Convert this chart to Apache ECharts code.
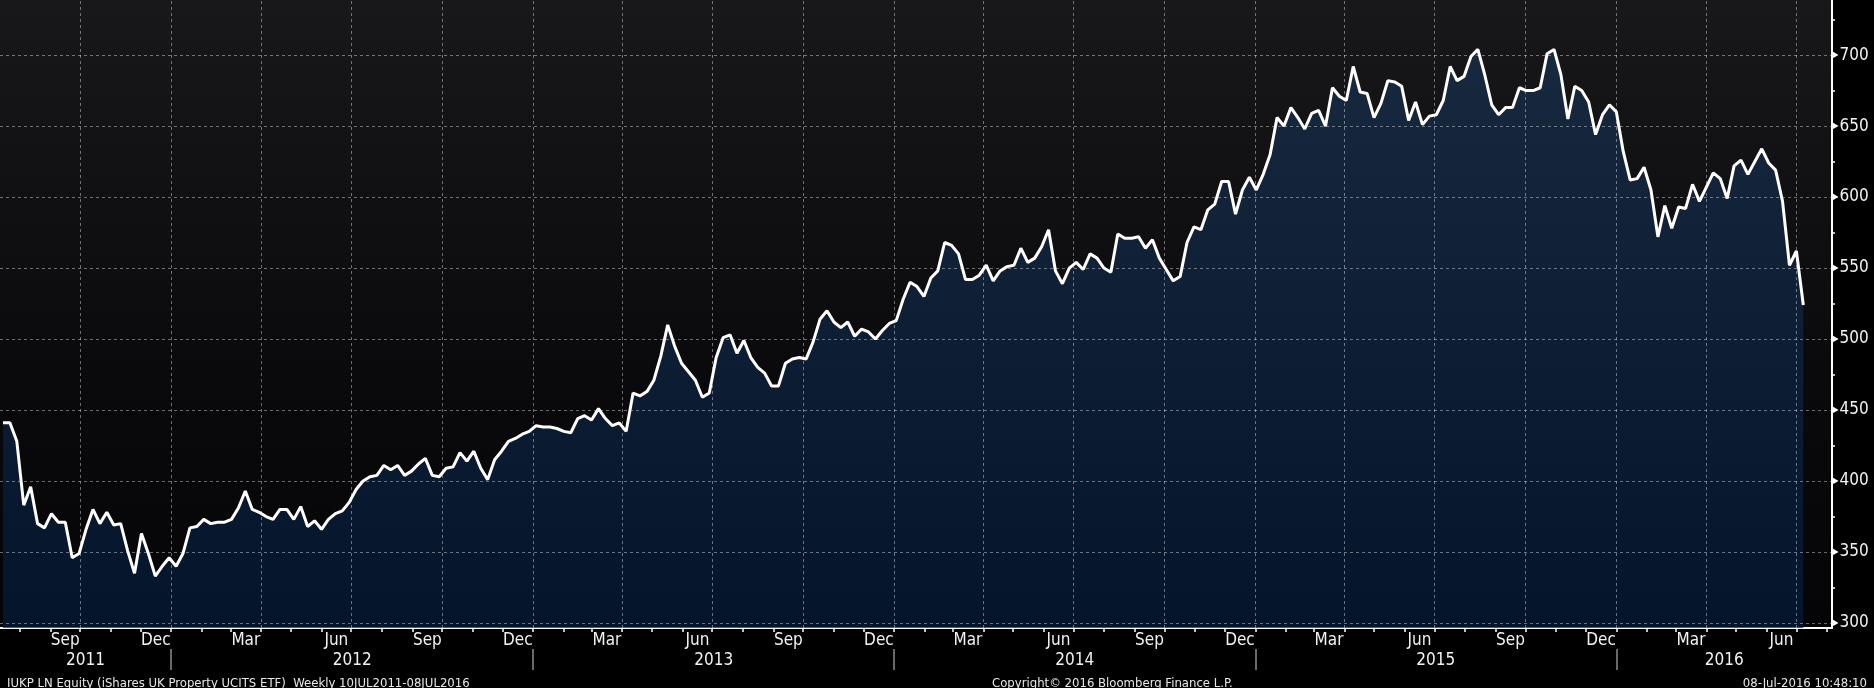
<!DOCTYPE html>
<html>
<head>
<meta charset="utf-8">
<title>IUKP LN Equity</title>
<script src="https://cdn.jsdelivr.net/npm/echarts@6/dist/echarts.min.js"></script>
<style>
  html, body { margin: 0; padding: 0; background: #000; }
  #chart { width: 1874px; height: 688px; }
</style>
</head>
<body>
<div id="chart"></div>
<script>
// weekly closes, first week ending 15 Jul 2011, last 08 Jul 2016
var firstWeek = [2011, 6, 15];
var closes = [
  441, 441, 428, 383, 396, 370, 367, 377, 371, 371, 346, 349, 366, 380, 370, 378, 369, 370, 351, 335, 363, 349,
  333, 340, 346, 340, 349, 367, 368, 373, 370, 371, 371, 373, 381, 393, 380, 378, 375, 373, 380, 380, 373, 382,
  368, 372, 366, 373, 377, 379, 385, 394, 400, 403, 404, 411, 408, 411, 404, 407, 412, 416, 404, 403, 409, 410,
  420, 414, 421, 409, 401, 415, 421, 428, 430, 433, 435, 439, 438, 438, 437, 435, 434, 444, 446, 443, 451, 444,
  439, 441, 435, 462, 460, 463, 471, 488, 510, 495, 483, 477, 471, 459, 462, 487, 501, 503, 490, 499, 487, 480,
  476, 467, 467, 483, 486, 487, 486, 498, 514, 520, 512, 508, 512, 502, 507, 505, 500, 506, 511, 513, 528, 540,
  537, 530, 543, 548, 568, 566, 560, 542, 542, 545, 552, 541, 548, 551, 552, 564, 554, 557, 565, 577, 548, 539,
  550, 554, 549, 560, 557, 550, 547, 574, 571, 571, 572, 564, 570, 557, 549, 541, 544, 568, 579, 577, 591, 595, 611,
  611, 588, 605, 614, 605, 616, 630, 656, 650, 663, 656, 648, 659, 661, 650, 677, 671, 668, 692, 674, 673, 656,
  666, 682, 681, 678, 654, 667, 651, 657, 658, 668, 692, 682, 685, 699, 704, 686, 665, 658, 663, 663, 677, 675,
  675, 677, 701, 704, 686, 655, 678, 675, 667, 644, 658, 665, 660, 632, 612, 613, 621, 605, 572, 594,
  578, 593, 592, 609, 597, 607, 617, 613, 599, 622, 626, 616, 625, 634, 624, 619, 597, 552, 562, 524
];

var monthNames = ['Jan', 'Feb', 'Mar', 'Apr', 'May', 'Jun', 'Jul', 'Aug', 'Sep', 'Oct', 'Nov', 'Dec'];
var labelMonths = [2, 5, 8, 11];
var years = [2011, 2012, 2013, 2014, 2015, 2016];
var priceLabels = [300, 350, 400, 450, 500, 550, 600, 650, 700];
var priceTicks = [325, 375, 425, 475, 525, 575, 625, 675, 725];

var axisStart = Date.UTC(2011, 6, 12);
var axisEnd = Date.UTC(2016, 7, 6);
var priceMin = 296.5;
var priceMax = 738.8;

var footLeft = 'IUKP LN Equity (iShares UK Property UCITS ETF)  Weekly 10JUL2011-08JUL2016';
var footMid = 'Copyright\u00a9 2016 Bloomberg Finance L.P.';
var footRight = '08-Jul-2016 10:48:10';

var FONT = '"DejaVu Sans Condensed", "Liberation Sans Narrow", "DejaVu Sans", sans-serif';

// x positions of the weekly points (ms timestamps on a value axis)
var seriesData = closes.map(function (v, i) {
  return [Date.UTC(firstWeek[0], firstWeek[1], firstWeek[2] + 7 * i), v];
});

// month boundaries, mid-month label spots, quarters, years
var monthStarts = [], monthMids = [], quarterStarts = [], yearStarts = [], yearMids = [];
years.forEach(function (y) {
  for (var m = 0; m < 12; m++) {
    var t = Date.UTC(y, m, 1);
    var next = Date.UTC(y, m + 1, 1);
    if (t > axisStart && t < axisEnd) {
      monthStarts.push(t);
      if (m % 3 === 0) quarterStarts.push(t);
      if (m === 0) yearStarts.push(t);
    }
    if (labelMonths.indexOf(m) >= 0) {
      var mid = (t + next) / 2;
      if (mid > axisStart && mid < axisEnd) monthMids.push(mid);
    }
  }
  var a = Math.max(Date.UTC(y, 0, 1), axisStart);
  var b = Math.min(Date.UTC(y + 1, 0, 1), axisEnd);
  yearMids.push((a + b) / 2);
});

var chart = echarts.init(document.getElementById('chart'));

var gridLines = priceLabels.map(function (v) { return { yAxis: v }; })
  .concat(quarterStarts.map(function (t) { return { xAxis: t }; }));

var labelFont = { color: '#f2f2f2', fontFamily: FONT, fontSize: 17 };
var footFont = { color: '#e8e8e8', fontFamily: FONT, fontSize: 13, fontWeight: 'normal' };

var option = {
  animation: false,
  backgroundColor: '#000',
  title: [
    { text: footLeft, left: 2, top: 672, textStyle: footFont },
    { text: footMid, left: 987, top: 672, textStyle: footFont },
    { text: footRight, right: 2, top: 672, textStyle: footFont }
  ],
  grid: {
    left: 0, right: 42, top: 0, bottom: 60,
    outerBoundsMode: 'none',
    show: true,
    borderWidth: 0,
    backgroundColor: new echarts.graphic.LinearGradient(0, 0, 0, 1, [
      { offset: 0, color: '#18181b' },
      { offset: 0.6, color: '#0a0a0d' },
      { offset: 1, color: '#050507' }
    ])
  },
  xAxis: [{
    type: 'value',
    min: axisStart,
    max: axisEnd,
    axisLine: { show: true, onZero: false, lineStyle: { color: '#ffffff', width: 2 } },
    axisTick: { show: true, customValues: monthStarts, length: 4, lineStyle: { color: '#ffffff', width: 1.5 } },
    axisLabel: Object.assign({
      show: true,
      customValues: monthMids,
      margin: 4,
      formatter: function (v) { return monthNames[new Date(v).getUTCMonth()]; }
    }, labelFont),
    splitLine: { show: false }
  }, {
    type: 'value',
    min: axisStart,
    max: axisEnd,
    position: 'bottom',
    offset: 21,
    axisLine: { show: false, onZero: false },
    axisTick: { show: true, customValues: yearStarts, length: 21, lineStyle: { color: '#8c8c8c', width: 1.5 } },
    axisLabel: Object.assign({
      show: true,
      customValues: yearMids,
      margin: 3,
      formatter: function (v) { return String(new Date(v).getUTCFullYear()); }
    }, labelFont),
    splitLine: { show: false }
  }],
  yAxis: {
    type: 'value',
    position: 'right',
    min: priceMin,
    max: priceMax,
    axisLine: { show: true, lineStyle: { color: '#ffffff', width: 2 } },
    axisTick: { show: true, customValues: priceTicks, length: 3, lineStyle: { color: '#ffffff', width: 1.5 } },
    axisLabel: Object.assign({
      show: true,
      customValues: priceLabels,
      margin: 1,
      formatter: function (v) { return '{t|\u25B6}' + v; },
      rich: {
        t: { fontSize: 8, color: '#ffffff', padding: [0, 1, 0, 0], verticalAlign: 'middle' }
      }
    }, labelFont),
    splitLine: { show: false }
  },
  series: [{
    type: 'line',
    xAxisIndex: 0,
    data: seriesData,
    showSymbol: false,
    symbol: 'none',
    lineStyle: { color: '#ffffff', width: 3 },
    areaStyle: {
      origin: 'start',
      color: new echarts.graphic.LinearGradient(0, 0, 0, 1, [
        { offset: 0, color: '#18314f' },
        { offset: 1, color: '#041b3b' }
      ])
    },
    markLine: {
      silent: true,
      symbol: 'none',
      label: { show: false },
      emphasis: { disabled: true },
      lineStyle: { type: [3, 3], color: 'rgba(255,255,255,0.4)', width: 1 },
      data: gridLines
    }
  }]
};

chart.setOption(option);
</script>
</body>
</html>
